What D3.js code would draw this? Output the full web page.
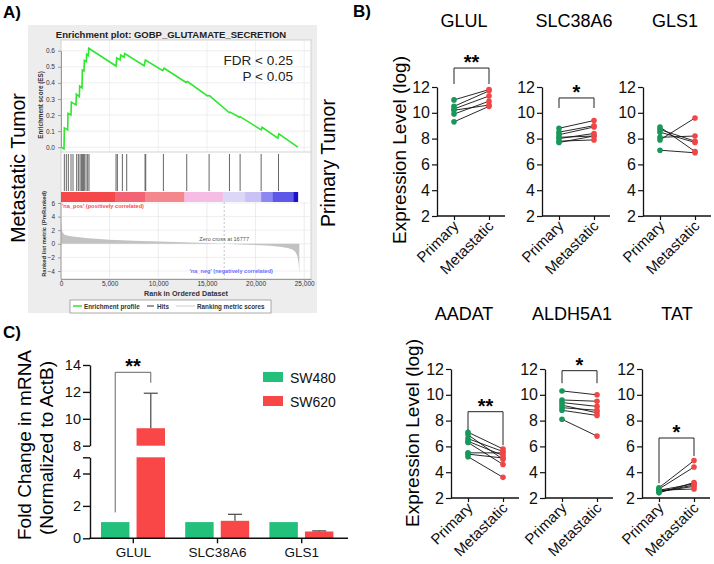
<!DOCTYPE html>
<html><head><meta charset="utf-8">
<script src="https://cdn.jsdelivr.net/npm/d3@7"></script>
<style>body{margin:0;background:#fff} svg{display:block} text{font-family:Arial,"Liberation Sans",sans-serif}</style>
</head><body><svg id="c" width="714" height="564"></svg>
<script>
// ---------------- DATA ----------------
// Panel A: GSEA enrichment
const esRanks = [0,309,343,686,720,1029,1063,1543,1577,1886,1920,2160,2195,2366,2400,2606,2640,2812,2846,5658,5727,6070,6138,6481,6550,8539,8676,10459,10596,12859,12996,15054,15260,17317,17386,18345,18414,20575,20678,22290,22393,24346];
const esScores = [0,-0.01,0.12,0.108,0.21,0.2,0.28,0.263,0.33,0.315,0.38,0.369,0.48,0.474,0.54,0.532,0.578,0.569,0.615,0.505,0.555,0.542,0.573,0.56,0.582,0.507,0.542,0.476,0.491,0.402,0.408,0.319,0.321,0.214,0.218,0.186,0.19,0.108,0.124,0.056,0.083,0.0];
const hitRanks = [343,549,754,1029,1234,1612,1783,1955,2092,2195,2297,2400,2572,2743,2880,5658,5795,6310,6755,8641,8710,10527,12927,15225,17317,18414,20575,22358];
const barStops = [0,5555,8641,12687,16631,18928,20575,21775,23901,24346];
const barColors = ["#f54848","#f26373","#f4878c","#f5bde6","#dcd6f7","#c8c2f5","#8c88f2","#5d58e8","#1d10c8"];
const metricRanks = [0,50,150,400,1000,2500,5000,7500,10000,12500,15000,16777,18500,20000,21500,22500,23300,23800,24100,24300,24420,24480,24500];
const metricValues = [3.2,2.4,1.7,1.3,1.1,0.85,0.6,0.45,0.33,0.22,0.1,0,-0.1,-0.18,-0.3,-0.42,-0.6,-0.85,-1.2,-1.8,-2.8,-4.0,-4.5];
const esTicks = [0,0.1,0.2,0.3,0.4,0.5,0.6];
const rankTicks = [0,5000,10000,15000,20000,25000];
const metricTicks = [6,4,2,0,-2,-4];
const zeroCross = 16777;

// Panel B: paired expression
const genesB = ["GLUL","SLC38A6","GLS1","AADAT","ALDH5A1","TAT"];
const groupsB = ["Primary","Metastatic"];
const primaryVals = [
  [11.0,10.5,10.3,10.2,9.9,9.3],
  [8.8,8.5,8.3,8.1,8.0,7.8,7.7],
  [8.9,8.7,8.5,8.1,7.9,7.1],
  [7.1,6.9,6.6,6.4,6.3,5.5,5.4,5.2],
  [10.3,9.6,9.4,9.2,9.0,8.8,8.1],
  [2.8,2.7,2.6,2.5,2.5,2.6,2.4]
];
const metastaticVals = [
  [11.8,11.7,11.3,10.6,10.9,10.5],
  [9.4,9.0,8.9,8.2,8.4,7.9,8.2],
  [7.0,7.8,7.7,8.2,9.6,6.9],
  [5.8,5.0,5.6,5.3,4.6,5.5,5.1,3.6],
  [10.0,9.5,9.1,8.6,8.8,8.4,6.8],
  [4.9,4.4,3.1,3.0,2.9,2.7,3.2]
];
const sigB = ["**","*","","**","*","*"];
const exprTicks = [2,4,6,8,10,12];

// Panel C: qPCR fold change
const genesC = ["GLUL","SLC38A6","GLS1"];
const cellLines = ["SW480","SW620"];
const sw480 = [1.0,1.0,1.0];
const sw620 = [9.3,1.08,0.42];
const sw620Err = [2.6,0.4,0.04];
const cLowerTicks = [0,2,4];
const cUpperTicks = [8,10,12,14];

// ---------------- DRAW ----------------
const svg = d3.select("#c");
const FONT = 'Arial,"Liberation Sans",sans-serif';
const GREEN_DOT = "#17985a", RED_DOT = "#f04646";
const GREEN_BAR = "#22c07a", RED_BAR = "#f94747";

// ===== Panel A =====
const A = svg.append("g");
A.append("text").attr("x",3).attr("y",18).attr("font-size",17).attr("font-weight","bold").text("A)");
A.append("rect").attr("x",28).attr("y",25).attr("width",289).attr("height",288).attr("fill","#ededed");
A.append("text").attr("x",171).attr("y",37.5).attr("text-anchor","middle").attr("font-size",9.5)
  .attr("font-weight","bold").attr("fill","#222").text("Enrichment plot: GOBP_GLUTAMATE_SECRETION");

const xR = d3.scaleLinear().domain([0,25700]).range([61,311]);
const yES = d3.scaleLinear().domain([0,0.6]).range([147.2,50.7]);
const yM = d3.scaleLinear().domain([-4,6]).range([271,203]);

A.append("rect").attr("x",61).attr("y",40).attr("width",250).attr("height",239).attr("fill","#fff").attr("stroke","#c8c8c8").attr("stroke-width",0.8);
A.append("g").selectAll("line").data(esTicks).join("line")
  .attr("x1",61).attr("x2",311).attr("y1",d=>yES(d)).attr("y2",d=>yES(d)).attr("stroke","#e6e6e6").attr("stroke-width",0.7);
A.append("g").selectAll("line").data(rankTicks.slice(1)).join("line")
  .attr("x1",d=>xR(d)).attr("x2",d=>xR(d)).attr("y1",40).attr("y2",152).attr("stroke","#e8e8e8").attr("stroke-width",0.7);
const esAx = A.append("g").attr("transform","translate(61,0)").call(d3.axisLeft(yES).tickValues(esTicks).tickFormat(d3.format(".1f")).tickSize(3).tickSizeOuter(0));
esAx.select(".domain").attr("stroke","#999");
esAx.selectAll(".tick line").attr("stroke","#999");
esAx.selectAll("text").attr("font-size",6.5).attr("fill","#333").attr("font-family",FONT);
const esPts = esRanks.map((r,i)=>[r,esScores[i]]);
A.append("path").datum(esPts).attr("fill","none").attr("stroke","#2ee62e").attr("stroke-width",1.6)
  .attr("d",d3.line().x(d=>xR(d[0])).y(d=>yES(d[1])));
A.append("line").attr("x1",61).attr("x2",311).attr("y1",152).attr("y2",152).attr("stroke","#c8c8c8").attr("stroke-width",0.8);
A.append("g").selectAll("line").data(hitRanks).join("line")
  .attr("x1",d=>xR(d)).attr("x2",d=>xR(d)).attr("y1",154).attr("y2",191).attr("stroke","#555").attr("stroke-width",0.9);
A.append("g").selectAll("rect").data(barColors).join("rect")
  .attr("x",(d,i)=>xR(barStops[i])).attr("width",(d,i)=>xR(barStops[i+1])-xR(barStops[i])+0.3)
  .attr("y",192).attr("height",10).attr("fill",d=>d);
A.append("g").selectAll("line").data(metricTicks).join("line")
  .attr("x1",61).attr("x2",311).attr("y1",d=>yM(d)).attr("y2",d=>yM(d)).attr("stroke","#e8e8e8").attr("stroke-width",0.7);
A.append("g").selectAll("line").data(rankTicks.slice(1)).join("line")
  .attr("x1",d=>xR(d)).attr("x2",d=>xR(d)).attr("y1",202).attr("y2",279).attr("stroke","#e4e4e4").attr("stroke-width",0.7);
const mPts = metricRanks.map((r,i)=>[r,metricValues[i]]);
A.append("path").datum(mPts).attr("fill","#c2c2c2")
  .attr("d",d3.area().x(d=>xR(d[0])).y0(yM(0)).y1(d=>yM(d[1])));
A.append("line").attr("x1",xR(zeroCross)).attr("x2",xR(zeroCross)).attr("y1",202).attr("y2",279)
  .attr("stroke","#aaa").attr("stroke-width",0.7).attr("stroke-dasharray","2,2");
const mAx = A.append("g").attr("transform","translate(61,0)").call(d3.axisLeft(yM).tickValues(metricTicks).tickSize(3).tickSizeOuter(0));
mAx.select(".domain").remove();
A.append("line").attr("x1",61).attr("x2",61).attr("y1",202).attr("y2",279).attr("stroke","#999").attr("stroke-width",0.8);
mAx.selectAll(".tick line").attr("stroke","#999");
mAx.selectAll("text").attr("font-size",6.5).attr("fill","#333").attr("font-family",FONT);
const rAx = A.append("g").attr("transform","translate(0,279)").call(d3.axisBottom(xR).tickValues(rankTicks).tickFormat(d3.format(",")).tickSize(2).tickSizeOuter(0).tickPadding(0.5));
rAx.select(".domain").attr("stroke","#999");
rAx.selectAll(".tick line").attr("stroke","#999");
rAx.selectAll("text").attr("font-size",6.5).attr("fill","#333").attr("font-family",FONT);
A.append("text").attr("x",186).attr("y",295.5).attr("text-anchor","middle").attr("font-size",7.2).attr("font-weight","bold").attr("fill","#333").text("Rank in Ordered Dataset");
A.append("text").attr("transform","translate(43,105) rotate(-90)").attr("text-anchor","middle").attr("font-size",6.3).attr("font-weight","bold").attr("fill","#333").text("Enrichment score (ES)");
A.append("text").attr("transform","translate(46,234) rotate(-90)").attr("text-anchor","middle").attr("font-size",5.8).attr("font-weight","bold").attr("fill","#333").text("Ranked list metric (PreRanked)");
A.append("text").attr("x",62).attr("y",207.5).attr("font-size",5.6).attr("font-weight","bold").attr("fill","#ff4a4a").text("'na_pos' (positively correlated)");
A.append("text").attr("x",273).attr("y",272.5).attr("text-anchor","end").attr("font-size",5.6).attr("font-weight","bold").attr("fill","#6b6bff").text("'na_neg' (negatively correlated)");
A.append("text").attr("x",xR(zeroCross)).attr("y",241).attr("text-anchor","middle").attr("font-size",5.6).attr("fill","#555").text("Zero cross at " + zeroCross);
A.append("text").attr("x",293).attr("y",65).attr("text-anchor","end").attr("font-size",13.5).attr("fill","#222").text("FDR < 0.25");
A.append("text").attr("x",293).attr("y",80.5).attr("text-anchor","end").attr("font-size",13.5).attr("fill","#222").text("P < 0.05");
const lg = A.append("g");
lg.append("rect").attr("x",70).attr("y",300).attr("width",201).attr("height",13).attr("fill","#fff").attr("stroke","#888").attr("stroke-width",0.7);
lg.append("line").attr("x1",73).attr("x2",82).attr("y1",306).attr("y2",306).attr("stroke","#2ee62e").attr("stroke-width",1.5);
lg.append("text").attr("x",84).attr("y",309).attr("font-size",6.3).attr("font-weight","bold").attr("fill","#333").text("Enrichment profile");
lg.append("line").attr("x1",147).attr("x2",154).attr("y1",306).attr("y2",306).attr("stroke","#333").attr("stroke-width",1);
lg.append("text").attr("x",157).attr("y",309).attr("font-size",6.3).attr("font-weight","bold").attr("fill","#333").text("Hits");
lg.append("line").attr("x1",176).attr("x2",195).attr("y1",306).attr("y2",306).attr("stroke","#ccc").attr("stroke-width",1);
lg.append("text").attr("x",197).attr("y",309).attr("font-size",6.3).attr("font-weight","bold").attr("fill","#333").text("Ranking metric scores");
svg.append("text").attr("transform","translate(25,168) rotate(-90)").attr("text-anchor","middle").attr("font-size",19.5).text("Metastatic Tumor");
svg.append("text").attr("transform","translate(335,163) rotate(-90)").attr("text-anchor","middle").attr("font-size",19.5).text("Primary Tumor");

// ===== Panel B =====
svg.append("text").attr("x",353).attr("y",17).attr("font-size",17).attr("font-weight","bold").text("B)");
const rowsB = [
  {idx:[0,1,2], axisX:[437,542,643], titleX:[464,574,675], yTop:87, yBot:216, titleY:27, labX:406, labY:150},
  {idx:[3,4,5], axisX:[451,545,642], titleX:[464,572,677], yTop:369, yBot:498, titleY:320, labX:419, labY:433}
];
const legs = {0:[1.24,1.24],1:[0.78,0.78],3:[1.42,2.6],4:[0.97,0.97],5:[3.5,1.4]};
const bracketY = {0:13.47,1:11.15,3:8.69,4:11.87,5:6.65};
rowsB.forEach(row=>{
  svg.append("text").attr("transform",`translate(${row.labX},${row.labY}) rotate(-90)`).attr("text-anchor","middle").attr("font-size",19).text("Expression Level (log)");
  row.idx.forEach((gi,k)=>{
    const ax = row.axisX[k];
    const y = d3.scaleLinear().domain([2,12]).range([row.yBot,row.yTop]);
    const x = d3.scalePoint().domain(groupsB).range([ax+17,ax+52]);
    const g = svg.append("g");
    g.append("text").attr("x",row.titleX[k]).attr("y",row.titleY).attr("text-anchor","middle").attr("font-size",18).text(genesB[gi]);
    const yA = g.append("g").attr("transform",`translate(${ax},0)`).call(d3.axisLeft(y).tickValues(exprTicks).tickFormat(d3.format("d")).tickSize(5).tickSizeOuter(0).tickPadding(2));
    yA.select(".domain").attr("stroke","#111").attr("stroke-width",1.3);
    yA.selectAll(".tick line").attr("stroke","#111").attr("stroke-width",1.2);
    yA.selectAll("text").attr("font-size",16).attr("fill","#111").attr("font-family",FONT);
    const xA = g.append("g").attr("transform",`translate(0,${row.yBot})`).call(d3.axisBottom(x).tickSize(4).tickSizeOuter(0));
    xA.select(".domain").remove();
    xA.selectAll(".tick line").attr("stroke","#111").attr("stroke-width",1.2);
    xA.selectAll("text").attr("font-size",15).attr("fill","#111").attr("font-family",FONT)
      .attr("text-anchor","end").attr("x",0).attr("y",0).attr("dy",0).attr("transform","translate(5,11) rotate(-45)");
    g.append("line").attr("x1",ax).attr("x2",ax+68).attr("y1",row.yBot).attr("y2",row.yBot).attr("stroke","#111").attr("stroke-width",1.3);
    const pv = primaryVals[gi], mv = metastaticVals[gi];
    g.append("g").selectAll("line").data(pv).join("line")
      .attr("x1",x("Primary")).attr("x2",x("Metastatic")).attr("y1",d=>y(d)).attr("y2",(d,i)=>y(mv[i]))
      .attr("stroke","#111").attr("stroke-width",0.9);
    g.append("g").selectAll("circle").data(pv).join("circle").attr("cx",x("Primary")).attr("cy",d=>y(d)).attr("r",2.8).attr("fill",GREEN_DOT);
    g.append("g").selectAll("circle").data(mv).join("circle").attr("cx",x("Metastatic")).attr("cy",d=>y(d)).attr("r",2.8).attr("fill",RED_DOT);
    if (sigB[gi]) {
      const by = y(bracketY[gi]);
      const l = legs[gi];
      const x1 = x("Primary"), x2 = x("Metastatic");
      g.append("path").attr("fill","none").attr("stroke","#222").attr("stroke-width",1)
        .attr("d",`M${x1},${by + l[0]*12.9} V${by} H${x2} V${by + l[1]*12.9}`);
      g.append("text").attr("x",(x1+x2)/2).attr("y",by+1).attr("text-anchor","middle").attr("font-size",20).attr("font-weight","bold").text(sigB[gi]);
    }
  });
});

// ===== Panel C =====
svg.append("text").attr("x",3).attr("y",338).attr("font-size",17).attr("font-weight","bold").text("C)");
const xC = d3.scaleBand().domain(genesC).range([91.2,343.8]);
const xSub = d3.scaleBand().domain(cellLines).range([-32.3,31.7]).paddingInner(0.2);
const yLow = d3.scaleLinear().domain([0,5]).range([538.3,457.3]);
const yUp = d3.scaleLinear().domain([8,14]).range([445.7,365]);
const C = svg.append("g");
const series = [{name:"SW480", vals:sw480, color:GREEN_BAR},{name:"SW620", vals:sw620, color:RED_BAR, err:sw620Err}];
series.forEach(s=>{
  s.vals.forEach((v,i)=>{
    const bx = xC(genesC[i]) + xC.bandwidth()/2 + xSub(s.name);
    const bw = xSub.bandwidth();
    if (v <= 5) {
      C.append("rect").attr("x",bx).attr("width",bw).attr("y",yLow(v)).attr("height",yLow(0)-yLow(v)).attr("fill",s.color);
    } else {
      C.append("rect").attr("x",bx).attr("width",bw).attr("y",yLow(5)).attr("height",yLow(0)-yLow(5)).attr("fill",s.color);
      C.append("rect").attr("x",bx).attr("width",bw).attr("y",yUp(v)).attr("height",yUp(8)-yUp(v)).attr("fill",s.color);
    }
    if (s.err) {
      const top = v + s.err[i];
      const ys = top > 8 ? yUp : yLow;
      const cx = bx + bw/2;
      const y0 = v > 8 ? yUp(v) : yLow(v);
      C.append("line").attr("x1",cx).attr("x2",cx).attr("y1",y0).attr("y2",ys(top)).attr("stroke","#555").attr("stroke-width",1.3);
      C.append("line").attr("x1",cx-7).attr("x2",cx+7).attr("y1",ys(top)).attr("y2",ys(top)).attr("stroke","#555").attr("stroke-width",1.3);
    }
  });
});
const lowAx = C.append("g").attr("transform","translate(90,0)").call(d3.axisLeft(yLow).tickValues([...cLowerTicks,5]).tickFormat(d=>cLowerTicks.includes(d)?String(d):"").tickSize(7).tickSizeOuter(0).tickPadding(2));
const upAx = C.append("g").attr("transform","translate(90,0)").call(d3.axisLeft(yUp).tickValues(cUpperTicks).tickFormat(d3.format("d")).tickSize(7).tickSizeOuter(0).tickPadding(2));
[lowAx,upAx].forEach(a=>{
  a.select(".domain").attr("stroke","#111").attr("stroke-width",1.4);
  a.selectAll(".tick line").attr("stroke","#111").attr("stroke-width",1.4);
  a.selectAll("text").attr("font-size",14.5).attr("fill","#111").attr("font-family",FONT);
});
const cxA = C.append("g").attr("transform","translate(0,538.3)").call(d3.axisBottom(xC).tickSize(5).tickSizeOuter(0).tickPadding(4));
cxA.select(".domain").remove();
cxA.selectAll(".tick line").attr("stroke","#111").attr("stroke-width",1.4);
cxA.selectAll("text").attr("font-size",13.5).attr("fill","#111").attr("font-family",FONT);
C.append("line").attr("x1",89.3).attr("x2",348).attr("y1",538.3).attr("y2",538.3).attr("stroke","#111").attr("stroke-width",1.5);
{
  const g0 = genesC[0];
  const xa = xC(g0)+xC.bandwidth()/2+xSub("SW480")+xSub.bandwidth()/2;
  const xb = xC(g0)+xC.bandwidth()/2+xSub("SW620")+xSub.bandwidth()/2;
  C.append("path").attr("fill","none").attr("stroke","#666").attr("stroke-width",1)
    .attr("d",`M${xa},${yLow(1.6)} V372.3 H${xb} V382.7`);
  C.append("text").attr("x",(xa+xb)/2).attr("y",373).attr("text-anchor","middle").attr("font-size",20).attr("font-weight","bold").text("**");
}
series.forEach((s,i)=>{
  C.append("rect").attr("x",263).attr("y",372+i*24).attr("width",20).attr("height",10).attr("fill",s.color);
  C.append("text").attr("x",290).attr("y",382.5+i*24).attr("font-size",14).attr("fill","#111").text(s.name);
});
C.append("text").attr("transform","translate(31,445) rotate(-90)").attr("text-anchor","middle").attr("font-size",19).text("Fold Change in mRNA");
C.append("text").attr("transform","translate(53,448) rotate(-90)").attr("text-anchor","middle").attr("font-size",19).text("(Normalized to ActB)");
</script></body></html>
